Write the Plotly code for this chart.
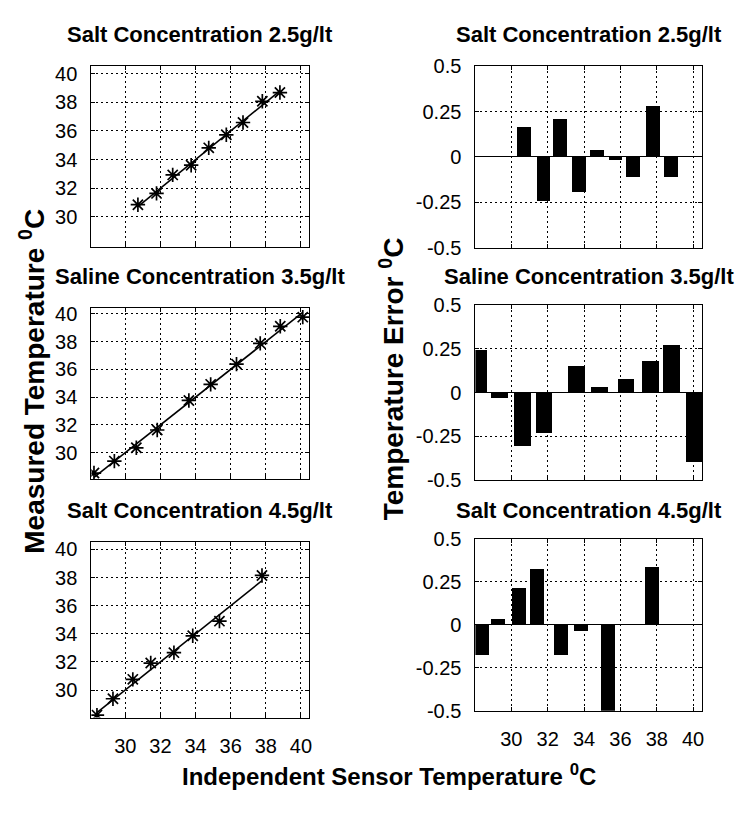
import plotly.graph_objects as go

# ---------------- data ----------------
titles = ["Salt Concentration 2.5g/lt",
          "Saline Concentration 3.5g/lt",
          "Salt Concentration 4.5g/lt"]

sensor_25 = [30.72, 31.78, 32.70, 33.75, 34.75, 35.75, 36.70, 37.80, 38.80]
measured_25 = [30.85, 31.64, 32.93, 33.61, 34.82, 35.73, 36.59, 38.07, 38.68]
error_25 = [0.164, -0.243, 0.206, -0.198, 0.035, -0.017, -0.112, 0.278, -0.112]

sensor_35 = [28.22, 29.38, 30.63, 31.82, 33.62, 34.86, 36.33, 37.68, 38.82, 40.10]
measured_35 = [28.53, 29.39, 30.35, 31.63, 33.76, 34.92, 36.38, 37.87, 39.10, 39.76]
error_35 = [0.242, -0.033, -0.307, -0.230, 0.152, 0.033, 0.080, 0.182, 0.271, -0.394]

sensor_45 = [28.39, 29.30, 30.43, 31.45, 32.77, 33.84, 35.36, 37.78]
measured_45 = [28.22, 29.38, 30.76, 31.92, 32.66, 33.86, 34.90, 38.15]
error_45 = [-0.172, 0.037, 0.215, 0.326, -0.172, -0.034, -0.500, 0.340]

temp_ticks = [30, 32, 34, 36, 38, 40]
temp_labels = ["30", "32", "34", "36", "38", "40"]
err_ticks = [-0.5, -0.25, 0, 0.25, 0.5]
err_labels = ["-0.5", "-0.25", "0", "0.25", "0.5"]

y_label_left = "Measured Temperature <sup>0</sup>C"
y_label_right = "Temperature Error <sup>0</sup>C"
x_label = "Independent Sensor Temperature <sup>0</sup>C"

# ---------------- layout geometry ----------------
W, H = 750, 824
FONT = "Liberation Sans, Arial, Helvetica, sans-serif"

rows = [
    dict(sensor=sensor_25, measured=measured_25, error=error_25, bw=0.75,
         ly=(57, 242), ry=(57, 243), lyr=[27.93, 40.5], title_y=24.5),
    dict(sensor=sensor_35, measured=measured_35, error=error_35, bw=0.92,
         ly=(305, 481), ry=(302, 482), lyr=[28.09, 40.43], title_y=272.5),
    dict(sensor=sensor_45, measured=measured_45, error=error_45, bw=0.77,
         ly=(546, 726), ry=(542, 719), lyr=[28.04, 40.5], title_y=513),
]
left_x = (91.7, 310.5)
right_x = (477.3, 705.0)


def px_x(a, b):
    return [a / W, b / W]


def px_y(top, bottom):
    return [1 - bottom / H, 1 - top / H]


fig = go.Figure()
layout = dict(
    width=W, height=H, autosize=False,
    margin=dict(l=0, r=0, t=0, b=0),
    paper_bgcolor="white", plot_bgcolor="white",
    showlegend=False,
    font=dict(family=FONT, color="black"),
    bargap=0,
)

axis_common = dict(
    showline=True, linecolor="black", linewidth=1, mirror="ticks",
    ticks="inside", ticklen=4, tickcolor="black",
    showgrid=True, gridcolor="black", gridwidth=1, griddash="2px,3px",
    zeroline=False,
)
tickfont = dict(size=20, family=FONT, color="black")

annotations = []

for i, r in enumerate(rows):
    li = 2 * i + 1
    ri = 2 * i + 2
    lx = "x" if li == 1 else f"x{li}"
    ly = "y" if li == 1 else f"y{li}"
    rx = f"x{ri}"
    ry = f"y{ri}"
    last = i == len(rows) - 1

    # ideal (y = x) line over the sensor range
    xs = [min(r["sensor"]), max(r["sensor"])]
    fig.add_trace(go.Scatter(x=xs, y=xs, mode="lines",
                             line=dict(color="black", width=1.6),
                             xaxis=lx, yaxis=ly, hoverinfo="skip"))
    fig.add_trace(go.Scatter(x=r["sensor"], y=r["measured"], mode="markers",
                             marker=dict(symbol="asterisk-open", size=12,
                                         color="black",
                                         line=dict(color="black", width=1.7)),
                             xaxis=lx, yaxis=ly))
    fig.add_trace(go.Bar(x=r["sensor"], y=r["error"],
                         width=[r["bw"]] * len(r["sensor"]),
                         marker=dict(color="black", line=dict(width=0)),
                         xaxis=rx, yaxis=ry))

    xkey_l = "xaxis" if li == 1 else f"xaxis{li}"
    ykey_l = "yaxis" if li == 1 else f"yaxis{li}"
    layout[xkey_l] = dict(axis_common, domain=px_x(*left_x), anchor=ly,
                          range=[28.07, 40.47], tickvals=temp_ticks,
                          ticktext=temp_labels, showticklabels=last,
                          tickfont=tickfont, ticklabelstandoff=10)
    layout[ykey_l] = dict(axis_common, domain=px_y(*r["ly"]), anchor=lx,
                          range=r["lyr"], tickvals=temp_ticks,
                          ticktext=temp_labels,
                          tickfont=tickfont, ticklabelstandoff=9)
    layout[f"xaxis{ri}"] = dict(axis_common, domain=px_x(*right_x), anchor=ry,
                                range=[28.02, 40.5], tickvals=temp_ticks,
                                ticktext=temp_labels, showticklabels=last,
                                tickfont=tickfont, ticklabelstandoff=10)
    layout[f"yaxis{ri}"] = dict(axis_common, domain=px_y(*r["ry"]), anchor=rx,
                                range=[-0.5, 0.5], tickvals=err_ticks,
                                ticktext=err_labels,
                                tickfont=tickfont, ticklabelstandoff=9,
                                zeroline=True, zerolinecolor="black",
                                zerolinewidth=1)

    # panel titles
    for cx in (left_x, right_x):
        annotations.append(dict(text=titles[i],
                                x=(cx[0] + cx[1]) / 2 / W,
                                y=1 - r["title_y"] / H,
                                xref="paper", yref="paper", showarrow=False,
                                xanchor="center", yanchor="middle",
                                font=dict(size=22, family=FONT, color="black",
                                          weight="bold")))

annotations.append(dict(text=y_label_left, x=32 / W, y=1 - 380 / H,
                        xref="paper", yref="paper", showarrow=False,
                        textangle=-90, xanchor="center", yanchor="middle",
                        font=dict(size=28, family=FONT, color="black",
                                  weight="bold")))
annotations.append(dict(text=y_label_right, x=393 / W, y=1 - 378 / H,
                        xref="paper", yref="paper", showarrow=False,
                        textangle=-90, xanchor="center", yanchor="middle",
                        font=dict(size=28, family=FONT, color="black",
                                  weight="bold")))
annotations.append(dict(text=x_label, x=391 / W, y=1 - 785 / H,
                        xref="paper", yref="paper", showarrow=False,
                        xanchor="center", yanchor="middle",
                        font=dict(size=24, family=FONT, color="black",
                                  weight="bold")))

layout["annotations"] = annotations
fig.update_layout(**layout)

fig.write_html("out.html", config={"displayModeBar": False},
               post_script="document.body.style.margin='0';"
                           "document.body.style.overflow='hidden';")
